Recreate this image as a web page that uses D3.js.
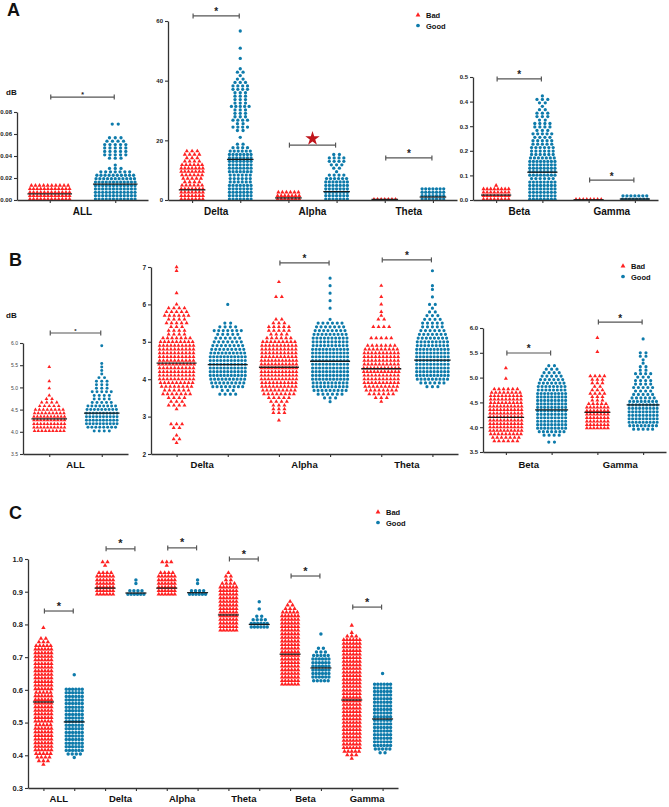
<!DOCTYPE html>
<html lang="en">
<head>
<meta charset="UTF-8">
<title>Bad vs Good</title>
<script src="https://cdn.jsdelivr.net/npm/d3@7/dist/d3.min.js"></script>
<style>
  body { margin: 0; background: #fff; }
  text { font-family: "Liberation Sans", Arial, sans-serif; }
</style>
</head>
<body>
<svg id="mainsvg" width="669" height="807"></svg>
<script>
// ---- data (row counts are points per horizontal row, bottom to top) ----
const groups = ['Bad', 'Good'];

// panel A, ALL
const a1Cats = ['ALL'];
const a1Ticks = [0, 0.02, 0.04, 0.06, 0.08];
const a1Step = 0.0031;
const a1Lo = [0.0008, 0.0008];
const a1Rows = [
  [12, 12, 12, 12, 10],
  [12, 12, 12, 12, 12, 12, 11, 10, 7, 3, 1, 0, 3, 5, 5, 5, 5, 4, 3, 0, 0, 0, 2]
];
const a1Means = [0.0055, 0.0145];
const a1Sig = [0.0936];

// panel A, Delta / Alpha / Theta
const a2Cats = ['Delta', 'Alpha', 'Theta'];
const a2Ticks = [0, 20, 40, 60];
const a2Step = 1.15;
const a2Lo = [0.3, 0.3, 0.3, 0.3, 0.2, 0.3];
const a2Rows = [
  [7, 7, 7, 7, 6, 4, 5, 6, 7, 7, 6, 4, 3, 4, 3],
  [7, 7, 7, 7, 7, 6, 6, 6, 7, 7, 7, 7, 7, 7, 6, 4, 2, 0, 1, 0, 2, 4, 2, 4, 3, 3, 3, 5, 3, 3,
   3, 3, 4, 4, 3, 2, 1, 2, 1, 0, 0, 1, 0, 0, 1, 0, 0, 0, 0, 1],
  [7, 7, 6],
  [7, 7, 7, 7, 7, 7, 6, 4, 1, 2, 3, 4, 4, 2],
  [7],
  [7, 7, 7, 7]
];
const a2Means = [3.4, 13.6, 0.7, 2.8, 0.2, 1.0];
const a2Sig = [61.7, 18.4, 14.1];
const a2Marks = ['*', 'star', '*'];

// panel A, Beta / Gamma
const a3Cats = ['Beta', 'Gamma'];
const a3Ticks = [0, 0.1, 0.2, 0.3, 0.4, 0.5];
const a3Step = 0.014;
const a3Lo = [0.003, 0.003, 0.002, 0.003];
const a3Rows = [
  [8, 8, 8, 8, 1],
  [8, 8, 8, 8, 8, 8, 6, 8, 8, 8, 8, 8, 7, 6, 6, 6, 5, 5, 4, 5, 3, 4, 4, 2, 3, 3, 2, 1, 2, 3, 1],
  [8],
  [8, 7]
];
const a3Means = [0.02, 0.113, 0.001, 0.004];
const a3Sig = [0.492, 0.081];

// panel B, ALL
const b1Cats = ['ALL'];
const b1Ticks = [3.5, 4.0, 4.5, 5.0, 5.5, 6.0];
const b1Step = 0.08;
const b1Lo = [4.02, 4.02];
const b1Rows = [
  [9, 10, 10, 10, 10, 9, 8, 5, 4, 2, 1, 0, 1, 0, 1, 0, 0, 0, 1],
  [4, 8, 10, 10, 10, 10, 9, 8, 5, 4, 4, 5, 3, 3, 3, 2, 1, 1, 1, 1, 0, 0, 0, 0, 1]
];
const b1Means = [4.29, 4.42];
const b1Sig = [6.225];

// panel B, Delta / Alpha / Theta
const b2Cats = ['Delta', 'Alpha', 'Theta'];
const b2Ticks = [2, 3, 4, 5, 6, 7];
const b2Step = 0.1;
const b2Lo = [2.3, 3.6, 2.9, 3.4, 3.4, 3.8];
const b2Rows = [
  [1, 2, 1, 0, 2, 3, 0, 0, 0, 1, 4, 3, 4, 7, 6, 8, 9, 10, 10, 10, 10, 11, 10, 10, 10, 10, 10, 9,
   7, 4, 4, 3, 5, 4, 6, 5, 4, 1, 0, 0, 1, 0, 0, 0, 0, 0, 1, 1],
  [4, 3, 8, 9, 10, 11, 11, 11, 11, 11, 11, 10, 9, 8, 7, 6, 5, 7, 4, 2, 0, 0, 0, 0, 1],
  [1, 0, 3, 3, 3, 4, 5, 8, 9, 10, 10, 11, 11, 11, 11, 11, 11, 10, 10, 10, 10, 9, 6, 4, 5, 5, 3,
   2, 0, 0, 0, 0, 0, 2, 0, 0, 0, 1],
  [1, 3, 6, 9, 10, 10, 11, 11, 11, 11, 11, 11, 11, 11, 11, 10, 10, 10, 9, 8, 7, 6, 1, 0, 0, 1, 0,
   1, 0, 1, 0, 1, 0, 1],
  [1, 3, 6, 8, 9, 10, 10, 10, 11, 11, 10, 10, 10, 10, 9, 7, 0, 5, 0, 0, 4, 0, 2, 1, 1, 0, 1, 0,
   1, 0, 0, 1],
  [3, 6, 9, 10, 10, 10, 10, 10, 10, 10, 10, 9, 9, 8, 7, 6, 5, 5, 4, 3, 2, 1, 2, 0, 1, 0, 1, 1, 0,
   0, 0, 1]
];
const b2Means = [4.43, 4.39, 4.32, 4.48, 4.28, 4.51];
const b2Sig = [null, 7.11, 7.19];

// panel B, Beta / Gamma
const b3Cats = ['Beta', 'Gamma'];
const b3Ticks = [3.5, 4.0, 4.5, 5.0, 5.5, 6.0];
const b3Step = 0.07;
const b3Lo = [3.72, 3.70, 3.98, 3.96];
const b3Rows = [
  [6, 7, 9, 10, 10, 10, 10, 10, 10, 10, 10, 9, 9, 9, 8, 6, 0, 0, 1, 0, 0, 1],
  [2, 0, 4, 7, 9, 9, 9, 9, 9, 9, 9, 9, 9, 9, 9, 8, 8, 7, 6, 5, 4, 3, 2],
  [7, 7, 7, 7, 7, 7, 7, 5, 3, 3, 4, 3, 2, 3, 3, 4, 0, 0, 0, 0, 0, 0, 1, 0, 0, 0, 1],
  [5, 8, 9, 9, 9, 9, 9, 9, 8, 6, 5, 4, 5, 4, 4, 3, 4, 2, 2, 1, 1, 2, 2, 0, 0, 0, 1]
];
const b3Means = [4.2, 4.35, 4.3, 4.45];
const b3Sig = [5.496, 6.12];

// panel C
const cCats = ['ALL', 'Delta', 'Alpha', 'Theta', 'Beta', 'Gamma'];
const cTicks = [0.3, 0.4, 0.5, 0.6, 0.7, 0.8, 0.9, 1.0];
const cStep = 0.011;
const cLo = [0.372, 0.393, 0.892, 0.892, 0.892, 0.892, 0.782, 0.792, 0.617, 0.628, 0.39, 0.408];
const cRows = [
  [1, 3, 4, 5, 6, 6, 6, 6, 6, 6, 6, 5, 6, 6, 6, 6, 6, 6, 6, 6, 5, 6, 6, 6, 6, 6, 6, 6, 6, 6, 6,
   6, 6, 5, 3, 2, 0, 0, 1],
  [1, 4, 6, 6, 6, 6, 6, 6, 6, 6, 6, 6, 6, 6, 6, 6, 6, 6, 6, 6, 0, 0, 0, 1],
  [6, 6, 6, 6, 6, 6, 4, 0, 1, 2],
  [6, 4, 0, 1, 1],
  [6, 6, 6, 6, 6, 6, 4, 0, 1, 3],
  [6, 4, 0, 1, 1],
  [6, 6, 6, 6, 6, 6, 6, 6, 6, 6, 6, 6, 6, 4, 2, 2, 1],
  [6, 6, 4, 2, 0, 1, 0, 1],
  [6, 6, 6, 6, 6, 6, 6, 6, 6, 6, 6, 6, 6, 6, 6, 6, 6, 6, 6, 6, 5, 3, 2, 1],
  [5, 6, 6, 6, 6, 6, 6, 5, 3, 2, 0, 0, 0, 1],
  [1, 3, 5, 6, 6, 6, 6, 6, 6, 6, 6, 6, 6, 6, 6, 6, 6, 6, 6, 6, 6, 6, 6, 6, 6, 6, 6, 6, 6, 6, 6,
   6, 6, 6, 3, 1, 0, 1],
  [2, 5, 6, 6, 6, 6, 6, 6, 6, 6, 6, 6, 6, 6, 6, 6, 6, 6, 6, 6, 0, 0, 1]
];
const cMeans = [0.563, 0.502, 0.911, 0.896, 0.911, 0.897, 0.829, 0.80, 0.709, 0.667, 0.569, 0.511];
const cSig = [0.841, 1.031, 1.034, 1.0, 0.948, 0.853];

// ---- drawing ----
const red = '#ff2222';
const blue = '#0e7bab';
const svg = d3.select('#mainsvg');

function panel(cats, ticks, fmt, step, lo, rows, means, sig, marks, L) {
  const keys = cats.flatMap(c => groups.map(g => c + '|' + g));
  const x = d3.scalePoint().domain(keys).range([L.x0, L.x1]).padding(0.5);
  const y = d3.scaleLinear().domain([ticks[0], ticks[ticks.length - 1]]).range([L.yBot, L.yTop]);
  const g = svg.append('g');

  const pts = [];
  rows.forEach((counts, gi) => {
    const maxN = d3.max(counts);
    counts.forEach((n, ri) => {
      // sparser rows get a somewhat wider spacing, as in the Prism layout
      const s = L.dx * (1 + 0.8 * (1 - n / maxN));
      for (let j = 0; j < n; j++) {
        pts.push({k: keys[gi], good: gi % 2, v: lo[gi] + ri * step, off: (j - (n - 1) / 2) * s});
      }
    });
  });
  const tri = d3.symbol(d3.symbolTriangle, L.tri)();
  const circ = d3.symbol(d3.symbolCircle, L.circ)();
  g.selectAll('path.pt').data(pts).join('path')
    .attr('class', 'pt')
    .attr('d', d => d.good ? circ : tri)
    .attr('transform', d => `translate(${x(d.k) + d.off},${y(d.v)})`)
    .attr('fill', d => d.good ? blue : red);

  // mean lines
  keys.forEach((k, gi) => {
    const maxN = d3.max(rows[gi]);
    const half = (maxN - 1) * L.dx / 2 + 2.5;
    g.append('line')
      .attr('x1', x(k) - half).attr('x2', x(k) + half)
      .attr('y1', y(means[gi])).attr('y2', y(means[gi]))
      .attr('stroke', '#1c1c1c').attr('stroke-width', 1.3);
  });

  // axes
  const yAxis = d3.axisLeft(y).tickValues(ticks).tickFormat(fmt).tickSize(3).tickSizeOuter(0).tickPadding(2);
  const ya = g.append('g').attr('transform', `translate(${L.x0},0)`).call(yAxis);
  const xAxis = d3.axisBottom(x).tickSize(3).tickSizeOuter(0).tickFormat('');
  const xa = g.append('g').attr('transform', `translate(0,${L.yBot})`).call(xAxis);
  [ya, xa].forEach(a => {
    a.select('.domain').attr('stroke', '#333').attr('stroke-width', 1.3);
    a.selectAll('.tick line').attr('stroke', '#333').attr('stroke-width', 1.1);
  });
  ya.selectAll('.tick text')
    .attr('font-size', L.tickFont).attr('font-weight', L.tickWeight)
    .attr('fill', L.tickColor).attr('font-family', '"Liberation Sans", Arial, sans-serif');

  // category labels
  cats.forEach(c => {
    const cx = (x(c + '|Bad') + x(c + '|Good')) / 2;
    g.append('text').text(c)
      .attr('x', cx).attr('y', L.labelY)
      .attr('text-anchor', 'middle').attr('font-size', L.labelFont)
      .attr('font-weight', 'bold').attr('fill', '#111');
  });

  // significance brackets
  cats.forEach((c, ci) => {
    if (sig[ci] == null) return;
    const xa1 = x(c + '|Bad') + 1, xa2 = x(c + '|Good') - 1, yy = y(sig[ci]);
    const b = g.append('g').attr('stroke', '#555').attr('stroke-width', 1.2);
    b.append('line').attr('x1', xa1).attr('x2', xa2).attr('y1', yy).attr('y2', yy);
    b.append('line').attr('x1', xa1).attr('x2', xa1).attr('y1', yy - 2.5).attr('y2', yy + 2.5);
    b.append('line').attr('x1', xa2).attr('x2', xa2).attr('y1', yy - 2.5).attr('y2', yy + 2.5);
    const mid = (xa1 + xa2) / 2;
    if (marks && marks[ci] === 'star') {
      g.append('path').attr('d', d3.symbol(d3.symbolStar, 64)())
        .attr('transform', `translate(${mid},${yy - 6.5})`)
        .attr('fill', '#c0161c');
    } else {
      g.append('text').text('*')
        .attr('x', mid).attr('y', yy - L.starLift)
        .attr('text-anchor', 'middle').attr('font-size', L.starFont)
        .attr('font-weight', 'bold').attr('fill', '#222');
    }
  });
}

function legend(x, y) {
  const g = svg.append('g').attr('transform', `translate(${x},${y})`);
  g.append('path').attr('d', d3.symbol(d3.symbolTriangle, 10)()).attr('fill', red);
  g.append('path').attr('d', d3.symbol(d3.symbolCircle, 11)()).attr('fill', blue)
    .attr('transform', 'translate(0,10.5)');
  g.append('text').text('Bad').attr('x', 8).attr('y', 3).attr('font-size', 7.5)
    .attr('font-weight', 'bold').attr('fill', '#111');
  g.append('text').text('Good').attr('x', 8).attr('y', 13.5).attr('font-size', 7.5)
    .attr('font-weight', 'bold').attr('fill', '#111');
}

function letter(t, x, y) {
  svg.append('text').text(t).attr('x', x).attr('y', y)
    .attr('font-size', 18).attr('font-weight', 'bold').attr('fill', '#111');
}

function unit(x, y) {
  svg.append('text').text('dB').attr('x', x).attr('y', y)
    .attr('font-size', 8).attr('font-weight', 'bold').attr('fill', '#111');
}

const f2 = d3.format('.2f'), f1 = d3.format('.1f'), f0 = d3.format('d');
const base = {dx: 3.6, tri: 7.5, circ: 8.5, tickFont: 6, tickWeight: 'bold', tickColor: '#222',
  labelFont: 10, starFont: 10, starLift: 0.5};

// A
letter('A', 7, 16);
unit(6, 95);
panel(a1Cats, a1Ticks, f2, a1Step, a1Lo, a1Rows, a1Means, a1Sig, null,
  {...base, x0: 17, x1: 148, yBot: 200, yTop: 112, labelY: 215, starFont: 7});
panel(a2Cats, a2Ticks, f0, a2Step, a2Lo, a2Rows, a2Means, a2Sig, a2Marks,
  {...base, x0: 168, x1: 457, yBot: 200, yTop: 21, labelY: 215});
panel(a3Cats, a3Ticks, f1, a3Step, a3Lo, a3Rows, a3Means, a3Sig, null,
  {...base, x0: 473, x1: 658, yBot: 200, yTop: 77, labelY: 215});
legend(418, 15);

// B
letter('B', 9, 266);
unit(6, 318);
panel(b1Cats, b1Ticks, f1, b1Step, b1Lo, b1Rows, b1Means, b1Sig, null,
  {...base, dx: 3.4, tri: 6, circ: 7, tickFont: 5, tickWeight: 'normal', tickColor: '#444',
   x0: 23, x1: 128, yBot: 454, yTop: 343, labelY: 468, labelFont: 9.5, starFont: 6});
panel(b2Cats, b2Ticks, f0, b2Step, b2Lo, b2Rows, b2Means, b2Sig, null,
  {...base, dx: 3.5, tri: 7, circ: 8, tickFont: 6.5, x0: 151, x1: 458, yBot: 454, yTop: 267,
   labelY: 468, labelFont: 9.5});
panel(b3Cats, b3Ticks, f1, b3Step, b3Lo, b3Rows, b3Means, b3Sig, null,
  {...base, dx: 3.5, tri: 7, circ: 8, x0: 483, x1: 666, yBot: 452, yTop: 328, labelY: 468,
   labelFont: 9.5});
legend(623, 266);

// C
letter('C', 9, 519);
panel(cCats, cTicks, f1, cStep, cLo, cRows, cMeans, cSig, null,
  {...base, dx: 3.2, tri: 8.5, circ: 9.5, tickFont: 7.5, x0: 28, x1: 398, yBot: 788, yTop: 559,
   labelY: 802, labelFont: 9.5, starFont: 11, starLift: 1.5});
legend(378, 512);
</script>
</body>
</html>
